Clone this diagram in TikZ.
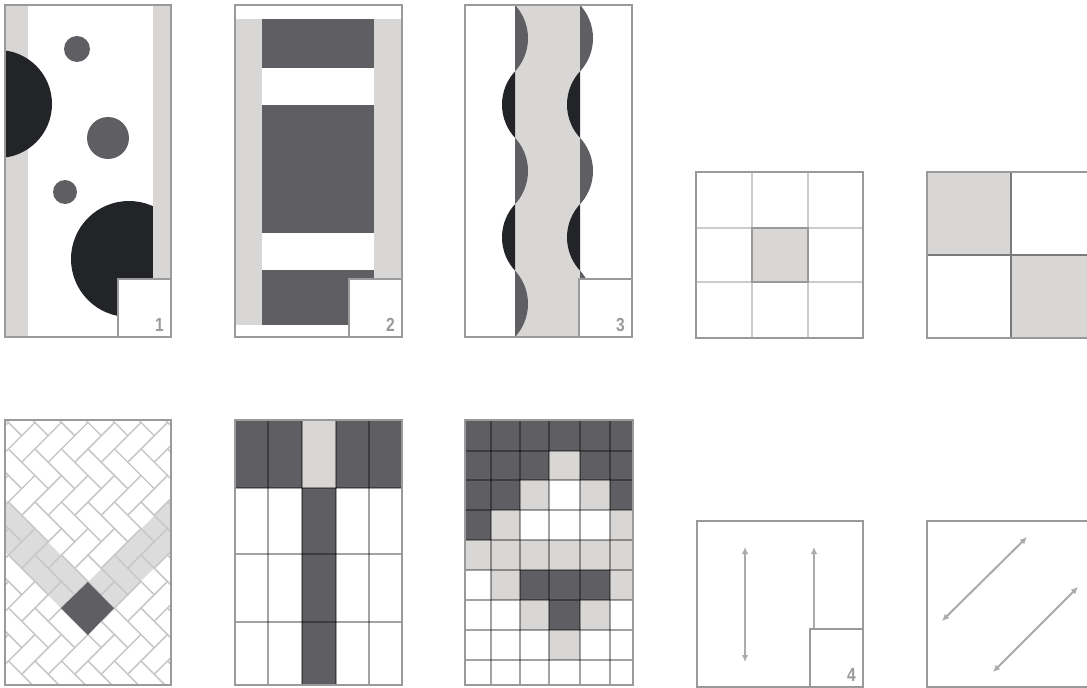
\documentclass[tikz,border=0pt]{standalone}
\usepackage{fontspec}
\setmainfont{Liberation Sans}
\usetikzlibrary{arrows.meta}
\definecolor{bord}{HTML}{9A9A9A}
\definecolor{lgray}{HTML}{D9D7D6}
\definecolor{dgray}{HTML}{5F5E62}
\definecolor{blk}{HTML}{222428}
\definecolor{hbc}{HTML}{C8C8C8}
\definecolor{hband}{HTML}{DCDCDC}
\definecolor{arrowc}{HTML}{ABABAB}
\definecolor{divc}{HTML}{7A7A7A}
\tikzset{
  frame/.style={draw=bord, line width=2pt},
  labelbox/.style={draw=bord, fill=white, line width=2pt},
  numlabel/.style={anchor=south east, inner sep=0pt, text=bord, font=\bfseries\fontsize{19}{19}\selectfont},
  gridline/.style={draw=black, draw opacity=0.36, line width=1.3pt},
  softline/.style={draw=black, draw opacity=0.2, line width=1.5pt},
  brick/.style={draw=hbc, line width=1.2pt},
  arr/.style={draw=arrowc, line width=2pt, {Latex[length=7pt,width=6.5pt]}-{Latex[length=7pt,width=6.5pt]}},
  arrone/.style={draw=arrowc, line width=2pt, -{Latex[length=7pt,width=6.5pt]}},
}
\newcommand\mybulge[5]{% x, y0, y1, dir, colour
  \begin{scope}
    \clip (#1,#2) rectangle ({#1+#4*20},#3);
    \fill[#5] ({#1-#4*35.9},{(#2+#3)/2}) circle (48.9);
  \end{scope}}
\newcommand\numtext[1]{\scalebox{0.82}[1]{#1}}
\begin{document}
\begin{tikzpicture}[x=1pt,y=-1pt]
\useasboundingbox (0,0) rectangle (1087,688);
\fill[white] (0,0) rectangle (1087,688);
\clip (0,0) rectangle (1087,688);

% ---------- Panel 1
\begin{scope}
  \clip (5,5) rectangle (171,337);
  \fill[lgray] (5,5) rectangle (28,337);
  \fill[blk] (-2,104) circle (54);
  \fill[dgray] (77,49) circle (13);
  \fill[dgray] (108,138) circle (21);
  \fill[dgray] (65,192) circle (12);
  \fill[blk] (129,259) circle (58);
  \fill[lgray] (153,5) rectangle (171,337);
\end{scope}
\draw[frame] (5,5) rectangle (171,337);
\draw[labelbox] (118,279) rectangle (171,337);
\node[numlabel] (n1) at (164,332) {\numtext{1}};

% ---------- Panel 2
\fill[lgray] (235,19) rectangle (402,325);
\fill[dgray] (262,19) rectangle (374,68);
\fill[white] (262,68) rectangle (374,105);
\fill[dgray] (262,105) rectangle (374,233);
\fill[white] (262,233) rectangle (374,270);
\fill[dgray] (262,270) rectangle (374,325);
\draw[frame] (235,5) rectangle (402,337);
\draw[labelbox] (349,279) rectangle (402,337);
\node[numlabel] (n2) at (395,332) {\numtext{2}};

% ---------- Panel 3
\fill[lgray] (515,5) rectangle (580,337);
\mybulge{515}{5}{71.4}{1}{dgray}
\mybulge{515}{71.4}{137.8}{-1}{blk}
\mybulge{515}{137.8}{204.2}{1}{dgray}
\mybulge{515}{204.2}{270.6}{-1}{blk}
\mybulge{515}{270.6}{337}{1}{dgray}
\mybulge{580}{5}{71.4}{1}{dgray}
\mybulge{580}{71.4}{137.8}{-1}{blk}
\mybulge{580}{137.8}{204.2}{1}{dgray}
\mybulge{580}{204.2}{270.6}{-1}{blk}
\mybulge{580}{270.6}{337}{1}{dgray}
\draw[frame] (465,5) rectangle (632,337);
\draw[labelbox] (579,279) rectangle (632,337);
\node[numlabel] (n3) at (625,332) {\numtext{3}};

% ---------- Panel 4 (3x3)
\fill[lgray] (752,228) rectangle (808,282);
\draw[softline] (752,172) -- (752,338);
\draw[softline] (808,172) -- (808,338);
\draw[softline] (696,228) -- (863,228);
\draw[softline] (696,282) -- (863,282);
\draw[draw=bord, line width=1.5pt] (752,228) rectangle (808,282);
\draw[frame] (696,172) rectangle (863,338);

% ---------- Panel 5 (2x2)
\fill[lgray] (927,172) rectangle (1011,255);
\fill[lgray] (1011,255) rectangle (1095,338);
\draw[draw=divc, line width=1.5pt] (1011,172) -- (1011,338);
\draw[draw=divc, line width=1.5pt] (927,255) -- (1095,255);
\draw[frame] (927,172) rectangle (1095,338);

% ---------- Panel 6 (herringbone)
\begin{scope}
  \clip (5,420) rectangle (171,685);
  \fill[hband] (88,582) -- (61,608) -- (-39,508) -- (-12,482) -- cycle;
  \fill[hband] (88,582) -- (114,608) -- (214,508) -- (188,482) -- cycle;
  \begin{scope}[shift={(88,608)}, rotate=45]
    \foreach \i in {-12,...,12} {
      \foreach \j in {-6,...,6} {
        \draw[brick] ({(\i+2*\j)*18.75-18.75},{(\i-2*\j)*18.75-18.75}) rectangle ++(37.5,18.75);
        \draw[brick] ({(\i+2*\j)*18.75-18.75},{(\i-2*\j)*18.75}) rectangle ++(18.75,37.5);
      }
    }
  \end{scope}
  \fill[dgray] (88,582) -- (114,608) -- (88,635) -- (61,608) -- cycle;
\end{scope}
\draw[frame] (5,420) rectangle (171,685);

% ---------- Panel 7 (5 columns)
\fill[dgray] (235,420) rectangle (402,488);
\fill[lgray] (302,420) rectangle (336,488);
\fill[dgray] (302,488) rectangle (336,685);
\foreach \gx in {268,302,336,369} { \draw[gridline] (\gx,420) -- (\gx,685); }
\foreach \gy in {488,554,622} { \draw[gridline] (235,\gy) -- (402,\gy); }
\draw[frame] (235,420) rectangle (402,685);

% ---------- Panel 8 (6x9)
\fill[dgray] (465,420) rectangle (633,451);
\fill[dgray] (465,451) rectangle (549,480);
\fill[lgray] (549,451) rectangle (580,480);
\fill[dgray] (580,451) rectangle (633,480);
\fill[dgray] (465,480) rectangle (520,510);
\fill[lgray] (520,480) rectangle (549,510);
\fill[lgray] (580,480) rectangle (610,510);
\fill[dgray] (610,480) rectangle (633,510);
\fill[dgray] (465,510) rectangle (491,540);
\fill[lgray] (491,510) rectangle (520,540);
\fill[lgray] (610,510) rectangle (633,540);
\fill[lgray] (465,540) rectangle (633,570);
\fill[lgray] (491,570) rectangle (520,600);
\fill[dgray] (520,570) rectangle (610,600);
\fill[lgray] (610,570) rectangle (633,600);
\fill[lgray] (520,600) rectangle (549,630);
\fill[dgray] (549,600) rectangle (580,630);
\fill[lgray] (580,600) rectangle (610,630);
\fill[lgray] (549,630) rectangle (580,660);
\foreach \gx in {491,520,549,580,610} { \draw[gridline] (\gx,420) -- (\gx,685); }
\foreach \gy in {451,480,510,540,570,600,630,660} { \draw[gridline] (465,\gy) -- (633,\gy); }
\draw[frame] (465,420) rectangle (633,685);

% ---------- Panel 9 (vertical arrows, label 4)
\draw[frame] (697,521) rectangle (863,687);
\coordinate (a1t) at (745,547);
\coordinate (a1b) at (745,662);
\coordinate (a2t) at (814,547);
\coordinate (a2b) at (814,660);
\draw[arr] (a1t) -- (a1b);
\draw[arrone] (a2b) -- (a2t);
\draw[labelbox] (810,629) rectangle (863,687);
\node[numlabel] (n4) at (856,682) {\numtext{4}};

% ---------- Panel 10 (diagonal arrows)
\draw[frame] (927,521) rectangle (1095,687);
\coordinate (b1s) at (942,621);
\coordinate (b1e) at (1027,537);
\coordinate (b2s) at (993,672);
\coordinate (b2e) at (1078,587);
\draw[arr] (b1s) -- (b1e);
\draw[arr] (b2s) -- (b2e);
\end{tikzpicture}
\end{document}
